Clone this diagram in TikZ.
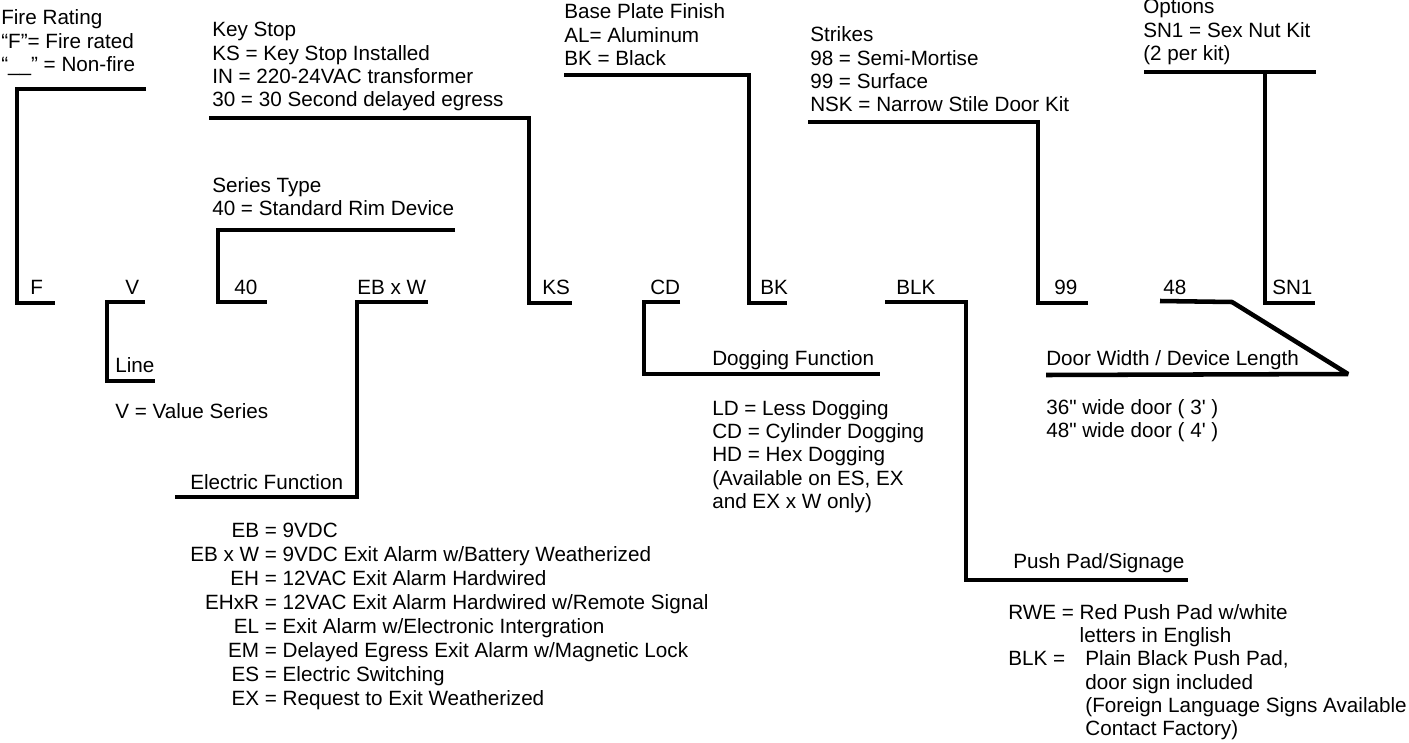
\documentclass[tikz,border=0pt]{standalone}
\usepackage{fontspec}
\setmainfont{Liberation Sans}
\begin{document}
\begin{tikzpicture}[x=0.75pt,y=-0.75pt,
  txt/.style={inner sep=0pt, anchor=base west, font=\fontsize{15.5}{17.5}\selectfont},
  brk/.style={line width=3.4pt, line join=miter, line cap=butt}]
\useasboundingbox (0,0) rectangle (1409,742);

% ---------- upper headings ----------
\node[txt] (fireT) at (1,25) {\begin{tabular}[t]{@{}l@{}}Fire Rating\\“F”= Fire rated\\“\_\_” = Non-fire\end{tabular}};
\node[txt] (keyT) at (212,37) {\begin{tabular}[t]{@{}l@{}}Key Stop\\KS = Key Stop Installed\\IN = 220-24VAC transformer\\30 = 30 Second delayed egress\end{tabular}};
\node[txt] (baseT) at (564,19) {\begin{tabular}[t]{@{}l@{}}Base Plate Finish\\AL= Aluminum\\BK = Black\end{tabular}};
\node[txt] (strT) at (810,42) {\begin{tabular}[t]{@{}l@{}}Strikes\\98 = Semi-Mortise\\99 = Surface\\NSK = Narrow Stile Door Kit\end{tabular}};
\node[txt] (optT) at (1143,14) {\begin{tabular}[t]{@{}l@{}}Options\\SN1 = Sex Nut Kit\\(2 per kit)\end{tabular}};
\node[txt] (serT) at (212,192) {\begin{tabular}[t]{@{}l@{}}Series Type\\40 = Standard Rim Device\end{tabular}};

% ---------- code row ----------
\node[txt] (cF) at (30,294) {F};
\node[txt] (cV) at (125,294) {V};
\node[txt] (c40) at (234,294) {40};
\node[txt] (cEB) at (357,294) {EB x W};
\node[txt] (cKS) at (542,294) {KS};
\node[txt] (cCD) at (650,294) {CD};
\node[txt] (cBK) at (760,294) {BK};
\node[txt] (cBLK) at (896,294) {BLK};
\node[txt] (c99) at (1054,294) {99};
\node[txt] (c48) at (1163,294) {48};
\node[txt] (cSN) at (1272,294) {SN1};

% ---------- lower headings ----------
\node[txt] (lineT) at (115,372) {Line};
\node[txt] (lineL) at (115,418) {V = Value Series};
\node[txt] (elT) at (190,489) {Electric Function};
\node[txt] (elL) at (190,537) {\fontsize{15.5}{18}\selectfont\begin{tabular}[t]{@{}r@{ = }l@{}}
EB & 9VDC\\
EB x W & 9VDC Exit Alarm w/Battery Weatherized\\
EH & 12VAC Exit Alarm Hardwired\\
EHxR & 12VAC Exit Alarm Hardwired w/Remote Signal\\
EL & Exit Alarm w/Electronic Intergration\\
EM & Delayed Egress Exit Alarm w/Magnetic Lock\\
ES & Electric Switching\\
EX & Request to Exit Weatherized\end{tabular}};
\node[txt] (dogT) at (712,365) {Dogging Function};
\node[txt] (dogL) at (712,415) {\begin{tabular}[t]{@{}l@{}}LD = Less Dogging\\CD = Cylinder Dogging\\HD = Hex Dogging\\(Available on ES, EX\\and EX x W only)\end{tabular}};
\node[txt] (pushT) at (1013,568) {Push Pad/Signage};
\node[txt] (pushL) at (1008,619) {\begin{tabular}[t]{@{}l@{\ }l@{}}
RWE = & Red Push Pad w/white\\
 & letters in English\\
BLK = & \ Plain Black Push Pad,\\
 & \ door sign included\\
 & \ (Foreign Language Signs Available\\
 & \ Contact Factory)\end{tabular}};
\node[txt] (doorT) at (1046,365) {Door Width / Device Length};
\node[txt] (doorL) at (1046,414) {\begin{tabular}[t]{@{}l@{}}36\textquotedbl\ wide door ( 3\textquotesingle\ )\\48\textquotedbl\ wide door ( 4\textquotesingle\ )\end{tabular}};

% ---------- bracket corner points ----------
\coordinate (fa) at (146,89);  \coordinate (fb) at (17,89);   \coordinate (fc) at (17,303);  \coordinate (fd) at (55,303);
\coordinate (ka) at (209,118); \coordinate (kb) at (529,118); \coordinate (kc) at (529,303); \coordinate (kd) at (572,303);
\coordinate (ba) at (564,75);  \coordinate (bb) at (749,75);  \coordinate (bc) at (749,303); \coordinate (bd) at (787,303);
\coordinate (sa) at (808,122); \coordinate (sb) at (1038,122);\coordinate (sc) at (1038,303);\coordinate (sd) at (1088,303);
\coordinate (oa) at (1144,72); \coordinate (ob) at (1316,72); \coordinate (oc) at (1265,72); \coordinate (od) at (1265,303); \coordinate (oe) at (1315,303);
\coordinate (ta) at (455,230); \coordinate (tb) at (218,230); \coordinate (tc) at (218,302); \coordinate (td) at (267,302);
\coordinate (va) at (145,302); \coordinate (vb) at (107,302); \coordinate (vc) at (107,381); \coordinate (vd) at (155,381);
\coordinate (ea) at (428,302); \coordinate (eb) at (357,302); \coordinate (ec) at (357,497); \coordinate (ed) at (175,497);
\coordinate (da) at (680,302); \coordinate (db) at (644,302); \coordinate (dc) at (644,374); \coordinate (dd) at (880,374);
\coordinate (pa) at (885,302); \coordinate (pb) at (966,302); \coordinate (pc) at (966,580); \coordinate (pd) at (1188,580);
\coordinate (wa) at (1160,301);\coordinate (wb) at (1232,302);\coordinate (wc) at (1348,374);\coordinate (wd) at (1046,375);

% ---------- brackets ----------
\draw[brk] (fa) -- (fb) -- (fc) -- (fd);
\draw[brk] (ka) -- (kb) -- (kc) -- (kd);
\draw[brk] (ba) -- (bb) -- (bc) -- (bd);
\draw[brk] (sa) -- (sb) -- (sc) -- (sd);
\draw[brk] (oa) -- (ob);
\draw[brk] (oc) -- (od) -- (oe);
\draw[brk] (ta) -- (tb) -- (tc) -- (td);
\draw[brk] (va) -- (vb) -- (vc) -- (vd);
\draw[brk] (ea) -- (eb) -- (ec) -- (ed);
\draw[brk] (da) -- (db) -- (dc) -- (dd);
\draw[brk] (pa) -- (pb) -- (pc) -- (pd);
\draw[brk, line join=bevel] (wa) -- (wb) -- (wc) -- (wd);
\end{tikzpicture}
\end{document}
